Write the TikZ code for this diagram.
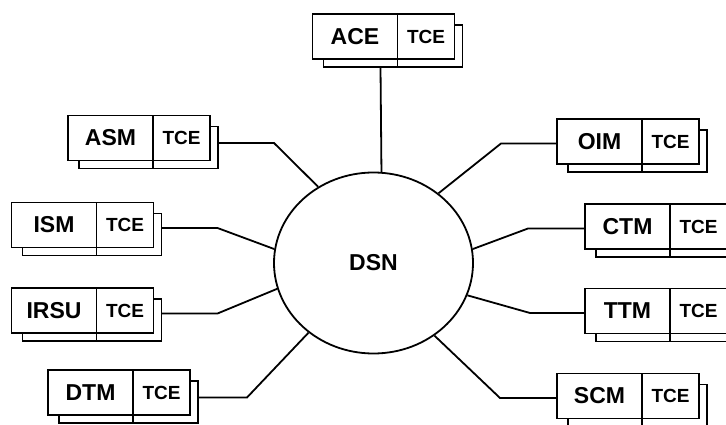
\documentclass[tikz,border=0pt]{standalone}
\usepackage{fontspec}
\setmainfont{Liberation Sans}
\usetikzlibrary{positioning, shapes.geometric}

\begin{document}
\begin{tikzpicture}[
x=1pt, y=-1pt,
namebox/.style={rectangle,
  draw,
  fill=white,
  line width=1.8pt,
  minimum width=85pt,
  minimum height=45pt,
  inner sep=0pt,
  outer sep=0pt,
  font=\fontsize{23}{23}\selectfont\bfseries
},
tcebox/.style={namebox,
  minimum width=57pt,
  font=\fontsize{19}{19}\selectfont\bfseries
},
hub/.style={ellipse,
  draw,
  line width=1.8pt,
  minimum width=199pt,
  minimum height=181pt,
  inner sep=0pt,
  font=\fontsize{23}{23}\selectfont\bfseries
},
back/.style={line width=1.8pt},
link/.style={line width=1.8pt}
]
\clip (0,0) rectangle (726,425);

\node[hub] (dsn) at (373.5,263) {DSN};

% left column
\node[namebox] (ace) at (355,36.5) {ACE};
\node[tcebox, right= 0pt of ace] (acet) {TCE};
\draw[back] ([xshift=11pt]ace.south west) |- ([shift={(8pt,-8pt)}]acet.south east) |- ([yshift=-11pt]acet.north east) (acet.south west) -- ++(0,8);

\node[namebox] (asm) at (110.5,138) {ASM};
\node[tcebox, right= 0pt of asm] (asmt) {TCE};
\draw[back] ([xshift=11pt]asm.south west) |- ([shift={(8pt,-8pt)}]asmt.south east) |- ([yshift=-11pt]asmt.north east) (asmt.south west) -- ++(0,8);

\node[namebox] (ism) at (54,225) {ISM};
\node[tcebox, right= 0pt of ism] (ismt) {TCE};
\draw[back] ([xshift=11pt]ism.south west) |- ([shift={(8pt,-8pt)}]ismt.south east) |- ([yshift=-11pt]ismt.north east) (ismt.south west) -- ++(0,8);

\node[namebox] (irsu) at (54,310.5) {IRSU};
\node[tcebox, right= 0pt of irsu] (irsut) {TCE};
\draw[back] ([xshift=11pt]irsu.south west) |- ([shift={(8pt,-8pt)}]irsut.south east) |- ([yshift=-11pt]irsut.north east) (irsut.south west) -- ++(0,8);

\node[namebox] (dtm) at (90.5,392.5) {DTM};
\node[tcebox, right= 0pt of dtm] (dtmt) {TCE};
\draw[back] ([xshift=11pt]dtm.south west) |- ([shift={(8pt,-8pt)}]dtmt.south east) |- ([yshift=-11pt]dtmt.north east) (dtmt.south west) -- ++(0,8);

% right column
\node[namebox] (oim) at (599.5,141.5) {OIM};
\node[tcebox, right= 0pt of oim] (oimt) {TCE};
\draw[back] ([xshift=11pt]oim.south west) |- ([shift={(8pt,-8pt)}]oimt.south east) |- ([yshift=-11pt]oimt.north east) (oimt.south west) -- ++(0,8);

\node[namebox] (ctm) at (627.5,226.5) {CTM};
\node[tcebox, right= 0pt of ctm] (ctmt) {TCE};
\draw[back] ([xshift=11pt]ctm.south west) |- ([shift={(8pt,-8pt)}]ctmt.south east) |- ([yshift=-11pt]ctmt.north east) (ctmt.south west) -- ++(0,8);

\node[namebox] (ttm) at (627.5,311) {TTM};
\node[tcebox, right= 0pt of ttm] (ttmt) {TCE};
\draw[back] ([xshift=11pt]ttm.south west) |- ([shift={(8pt,-8pt)}]ttmt.south east) |- ([yshift=-11pt]ttmt.north east) (ttmt.south west) -- ++(0,8);

\node[namebox] (scm) at (599.5,396) {SCM};
\node[tcebox, right= 0pt of scm] (scmt) {TCE};
\draw[back] ([xshift=11pt]scm.south west) |- ([shift={(8pt,-8pt)}]scmt.south east) |- ([yshift=-11pt]scmt.north east) (scmt.south west) -- ++(0,8);

% links to the hub
\draw[link] ([shift={(-17pt,-8pt)}]ace.south east) -- (dsn.85.5);
\draw[link] ([shift={(8pt,-5pt)}]asmt.east) -- ++(56,0) -- (dsn.126.6);
\draw[link] ([shift={(8pt,-3pt)}]ismt.east) -- ++(56,0) -- (dsn.172.5);
\draw[link] ([shift={(8pt,-3pt)}]irsut.east) -- ++(56,0) -- (dsn.195.6);
\draw[link] ([shift={(8pt,-5pt)}]dtmt.east) -- ++(49,0) -- (dsn.227.9);
\draw[link] ([yshift=-2pt]oim.west) -- ++(-56,0) -- (dsn.47);
\draw[link] ([yshift=-2pt]ctm.west) -- ++(-57,0) -- (dsn.8.5);
\draw[link] ([yshift=-2pt]ttm.west) -- ++(-55,0) -- (dsn.341);
\draw[link] ([yshift=-2pt]scm.west) -- ++(-57,0) -- (dsn.310.5);
\end{tikzpicture}
\end{document}
